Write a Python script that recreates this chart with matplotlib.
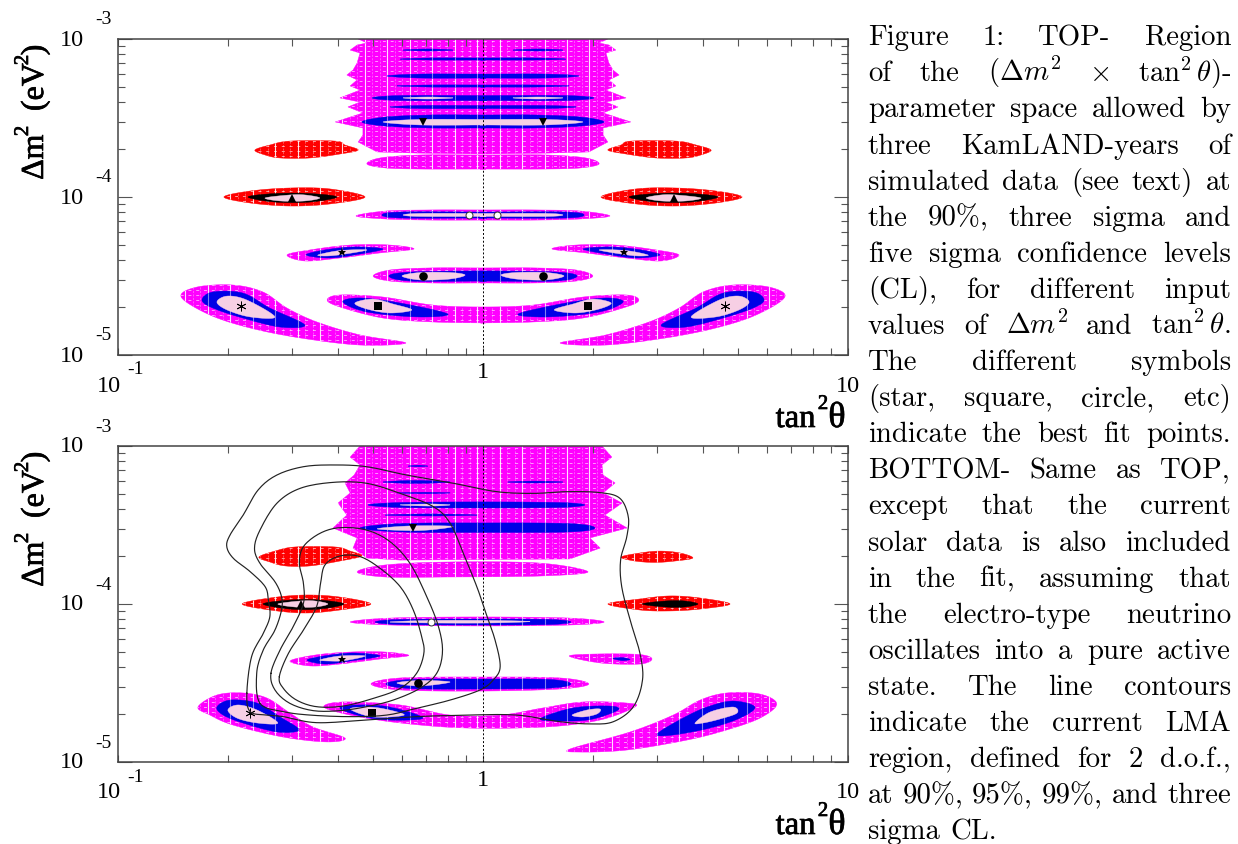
import numpy as np
import matplotlib
matplotlib.use('Agg')
import matplotlib.pyplot as plt
import matplotlib.patheffects as pe
from matplotlib.patches import Polygon

MAG, BLUE, PINK, RED, BLK = '#ff00ff', '#0000e6', '#f7cfe4', '#ff0000', '#000000'

# ---- all outlines are (log10 tan^2 theta, log10 dm^2) readings ----
# TOP panel: symmetric under tan^2 -> 1/tan^2, left half read
top_big_left = [(-.342,-3.000),(-.318,-3.025),(-.345,-3.038),(-.364,-3.070),(-.337,-3.089),(-.345,-3.152),(-.356,-3.196),(-.373,-3.228),(-.345,-3.259),(-.364,-3.297),(-.337,-3.323),(-.392,-3.373),(-.337,-3.399),(-.370,-3.430),(-.329,-3.468),(-.405,-3.525),(-.329,-3.563),(-.329,-3.608),(-.342,-3.652),(-.290,-3.715),(-.181,-3.722),(0,-3.728)]
# bands crossing tan^2=1: (upper edge, lower edge), left tip to centre
top_mag_bands = [
    ([(-.318,-3.791),(-.282,-3.753),(-.173,-3.734),(0,-3.734)], [(-.318,-3.791),(-.268,-3.816),(-.173,-3.823),(0,-3.823)]),
    ([(-.348,-4.120),(-.268,-4.089),(-.145,-4.082),(0,-4.082)], [(-.348,-4.120),(-.268,-4.139),(-.145,-4.146),(0,-4.146)]),
    ([(-.301,-4.500),(-.255,-4.462),(-.145,-4.449),(0,-4.449)], [(-.301,-4.500),(-.255,-4.532),(-.145,-4.544),(0,-4.544)]),
    ([(-.427,-4.652),(-.392,-4.620),(-.274,-4.633),(-.137,-4.684),(0,-4.696)], [(-.427,-4.652),(-.392,-4.696),(-.274,-4.766),(-.137,-4.791),(0,-4.797)]),
]
top_blue_bands = [
    ([(-.332,-3.525),(-.268,-3.494),(-.145,-3.481),(0,-3.481)], [(-.332,-3.525),(-.268,-3.551),(-.145,-3.563),(0,-3.563)]),
    ([(-.227,-3.127),(-.145,-3.120),(0,-3.120)], [(-.227,-3.127),(-.145,-3.133),(0,-3.133)]),
    ([(-.263,-3.234),(-.173,-3.222),(0,-3.222)], [(-.263,-3.234),(-.173,-3.247),(0,-3.247)]),
    ([(-.236,-3.297),(-.145,-3.291),(0,-3.291)], [(-.236,-3.297),(-.145,-3.304),(0,-3.304)]),
    ([(-.304,-3.373),(-.227,-3.358),(0,-3.358)], [(-.304,-3.373),(-.227,-3.389),(0,-3.389)]),
    ([(-.255,-3.430),(-.173,-3.421),(0,-3.421)], [(-.255,-3.430),(-.173,-3.440),(0,-3.440)]),
    ([(-.277,-4.114),(-.227,-4.095),(0,-4.095)], [(-.277,-4.114),(-.227,-4.133),(0,-4.133)]),
    ([(-.258,-4.500),(-.200,-4.475),(0,-4.468)], [(-.258,-4.500),(-.200,-4.532),(0,-4.532)]),
]
top_pink_bands = [
    ([(-.274,-3.525),(-.173,-3.509),(0,-3.509)], [(-.274,-3.525),(-.173,-3.544),(0,-3.544)]),
    ([(-.219,-4.114),(-.173,-4.104),(0,-4.104)], [(-.219,-4.114),(-.173,-4.123),(0,-4.123)]),
]
# closed shapes, drawn with their mirror image
top_red = [
    [(-.625,-3.703),(-.584,-3.671),(-.529,-3.646),(-.405,-3.646),(-.378,-3.671),(-.342,-3.703),(-.392,-3.728),(-.474,-3.753),(-.556,-3.753),(-.597,-3.734)],
    [(-.710,-4.000),(-.638,-3.962),(-.529,-3.943),(-.419,-3.949),(-.323,-4.000),(-.419,-4.044),(-.529,-4.057),(-.638,-4.038)],
]
top_black = [[(-.644,-4.000),(-.570,-3.978),(-.474,-3.978),(-.400,-4.000),(-.474,-4.032),(-.570,-4.032)]]
top_mag = [
    [(-.537,-4.367),(-.474,-4.335),(-.364,-4.304),(-.255,-4.304),(-.189,-4.329),(-.282,-4.354),(-.392,-4.386),(-.488,-4.405)],
    [(-.827,-4.633),(-.784,-4.570),(-.685,-4.557),(-.603,-4.601),(-.537,-4.703),(-.455,-4.791),(-.337,-4.873),(-.211,-4.924),(-.337,-4.937),(-.501,-4.892),(-.638,-4.829),(-.748,-4.747)],
]
top_blue = [
    [(-.219,-3.070),(-.151,-3.063),(-.082,-3.070),(-.151,-3.076)],
    [(-.485,-4.367),(-.433,-4.335),(-.351,-4.316),(-.274,-4.329),(-.337,-4.361),(-.419,-4.386)],
    [(-.384,-4.665),(-.337,-4.639),(-.227,-4.671),(-.096,-4.741),(-.181,-4.759),(-.318,-4.728)],
    [(-.770,-4.652),(-.740,-4.601),(-.658,-4.608),(-.584,-4.703),(-.488,-4.810),(-.556,-4.823),(-.658,-4.766),(-.740,-4.703)],
]
top_pink = [
    [(-.219,-3.373),(-.151,-3.367),(-.082,-3.373),(-.151,-3.380)],
    [(-.597,-4.006),(-.529,-3.987),(-.488,-3.987),(-.447,-4.006),(-.488,-4.025),(-.556,-4.025)],
    [(-.452,-4.367),(-.392,-4.339),(-.318,-4.335),(-.378,-4.361),(-.425,-4.373)],
    [(-.222,-4.500),(-.173,-4.478),(-.090,-4.478),(-.049,-4.494),(-.090,-4.519),(-.173,-4.525)],
    [(-.351,-4.671),(-.301,-4.646),(-.247,-4.677),(-.195,-4.715),(-.255,-4.734),(-.318,-4.709)],
    [(-.729,-4.665),(-.701,-4.627),(-.647,-4.652),(-.570,-4.759),(-.638,-4.759),(-.701,-4.715)],
]
top_marks = [('ast',-.663,-4.690),('s',-.288,-4.690),('o',-.164,-4.500),('*',-.386,-4.348),('open',-.038,-4.114),('^',-.523,-4.006),('v',-.164,-3.525)]

# BOTTOM panel
bot_big = [(-.337,-3.000),(-.364,-3.070),(-.337,-3.120),(-.353,-3.184),(-.378,-3.234),(-.364,-3.297),(-.397,-3.361),(-.373,-3.437),(-.411,-3.519),(-.345,-3.582),(-.356,-3.646),(-.318,-3.709),(-.227,-3.722),(.238,-3.715),(.321,-3.646),(.293,-3.582),(.395,-3.519),(.334,-3.437),(.381,-3.361),(.329,-3.297),(.362,-3.234),(.329,-3.184),(.326,-3.120),(.353,-3.070),(.326,-3.000)]
bot_red = [
    [(-.614,-3.703),(-.570,-3.665),(-.515,-3.639),(-.405,-3.639),(-.364,-3.665),(-.332,-3.696),(-.392,-3.728),(-.474,-3.759),(-.542,-3.759),(-.584,-3.734)],
    [(.378,-3.703),(.430,-3.677),(.485,-3.665),(.540,-3.677),(.575,-3.709),(.526,-3.728),(.471,-3.737),(.416,-3.728)],
    [(-.660,-4.000),(-.584,-3.962),(-.488,-3.943),(-.392,-3.956),(-.307,-4.000),(-.392,-4.038),(-.488,-4.057),(-.584,-4.038)],
    [(.342,-4.000),(.430,-3.968),(.512,-3.949),(.595,-3.962),(.677,-4.000),(.595,-4.032),(.512,-4.044),(.430,-4.038)],
]
bot_black = [
    [(-.603,-4.000),(-.529,-3.975),(-.447,-3.975),(-.381,-4.000),(-.447,-4.032),(-.529,-4.032)],
    [(.436,-4.000),(.499,-3.981),(.553,-3.981),(.589,-4.000),(.553,-4.019),(.499,-4.019)],
]
bot_mag = [
    [(-.345,-3.797),(-.268,-3.753),(-.090,-3.734),(.156,-3.741),(.288,-3.797),(.156,-3.823),(-.090,-3.829),(-.268,-3.829)],
    [(-.364,-4.114),(-.255,-4.089),(-.008,-4.082),(.238,-4.089),(.332,-4.114),(.238,-4.133),(-.008,-4.139),(-.255,-4.133)],
    [(-.529,-4.361),(-.460,-4.323),(-.364,-4.304),(-.268,-4.304),(-.203,-4.326),(-.282,-4.348),(-.392,-4.380),(-.474,-4.392)],
    [(.236,-4.329),(.321,-4.316),(.430,-4.320),(.463,-4.348),(.430,-4.380),(.321,-4.373)],
    [(-.307,-4.506),(-.227,-4.468),(-.008,-4.462),(.211,-4.468),(.290,-4.506),(.211,-4.538),(-.008,-4.551),(-.227,-4.544)],
    [(-.436,-4.652),(-.384,-4.620),(-.227,-4.639),(-.090,-4.703),(.047,-4.703),(.164,-4.658),(.274,-4.620),(.395,-4.627),(.416,-4.652),(.321,-4.734),(.175,-4.778),(-.044,-4.785),(-.227,-4.753),(-.364,-4.703)],
    [(-.781,-4.652),(-.729,-4.576),(-.658,-4.563),(-.592,-4.595),(-.529,-4.690),(-.466,-4.778),(-.378,-4.848),(-.427,-4.873),(-.548,-4.842),(-.685,-4.766),(-.748,-4.703)],
    [(.238,-4.918),(.403,-4.810),(.521,-4.703),(.595,-4.608),(.668,-4.563),(.759,-4.570),(.805,-4.633),(.759,-4.722),(.668,-4.797),(.559,-4.861),(.395,-4.924),(.266,-4.937)],
]
bot_blue = [
    [(-.337,-3.519),(-.227,-3.491),(-.008,-3.487),(.238,-3.491),(.307,-3.519),(.238,-3.544),(-.008,-3.547),(-.227,-3.544)],
    [(-.205,-3.127),(-.178,-3.122),(-.151,-3.127),(-.178,-3.131)],
    [(-.274,-3.228),(-.186,-3.218),(-.090,-3.228),(-.186,-3.237)],
    [(.068,-3.228),(.142,-3.222),(.219,-3.228),(.142,-3.234)],
    [(-.236,-3.297),(-.159,-3.293),(-.090,-3.297),(-.159,-3.302)],
    [(-.315,-3.373),(-.227,-3.358),(-.008,-3.354),(.211,-3.358),(.279,-3.373),(.211,-3.389),(-.008,-3.392),(-.227,-3.389)],
    [(-.268,-3.437),(-.145,-3.430),(-.016,-3.437),(-.145,-3.443)],
    [(-.296,-4.114),(-.227,-4.098),(-.008,-4.095),(.184,-4.098),(.241,-4.114),(.184,-4.130),(-.008,-4.133),(-.227,-4.130)],
    [(-.482,-4.354),(-.419,-4.323),(-.351,-4.310),(-.282,-4.329),(-.364,-4.361),(-.433,-4.380)],
    [(.356,-4.345),(.381,-4.339),(.403,-4.351),(.381,-4.358)],
    [(-.266,-4.506),(-.200,-4.478),(-.008,-4.475),(.184,-4.478),(.241,-4.506),(.184,-4.532),(-.008,-4.538),(-.200,-4.535)],
    [(-.392,-4.658),(-.345,-4.639),(-.255,-4.652),(-.164,-4.722),(-.263,-4.734),(-.345,-4.703)],
    [(.156,-4.728),(.247,-4.658),(.348,-4.646),(.370,-4.671),(.301,-4.728),(.230,-4.741)],
    [(-.729,-4.652),(-.693,-4.608),(-.619,-4.627),(-.556,-4.715),(-.504,-4.797),(-.564,-4.810),(-.658,-4.753),(-.712,-4.703)],
    [(.477,-4.823),(.548,-4.722),(.614,-4.652),(.685,-4.614),(.745,-4.652),(.704,-4.722),(.622,-4.785),(.521,-4.829)],
]
bot_pink = [
    [(-.290,-3.525),(-.200,-3.506),(-.082,-3.509),(-.173,-3.535)],
    [(-.227,-3.373),(-.145,-3.367),(-.090,-3.373),(-.145,-3.380)],
    [(-.562,-4.000),(-.501,-3.981),(-.460,-3.981),(-.425,-4.000),(-.460,-4.019),(-.515,-4.019)],
    [(-.255,-4.114),(-.145,-4.104),(.019,-4.104),(.129,-4.111),(.019,-4.120),(-.145,-4.120)],
    [(-.447,-4.354),(-.392,-4.329),(-.323,-4.329),(-.378,-4.358),(-.419,-4.361)],
    [(-.236,-4.500),(-.173,-4.484),(-.090,-4.494),(-.173,-4.519)],
    [(-.364,-4.665),(-.318,-4.652),(-.268,-4.665),(-.216,-4.703),(-.301,-4.715)],
    [(.244,-4.703),(.285,-4.671),(.321,-4.665),(.312,-4.696),(.274,-4.715)],
    [(-.699,-4.671),(-.671,-4.639),(-.619,-4.671),(-.562,-4.753),(-.619,-4.753),(-.674,-4.722)],
    [(.581,-4.753),(.622,-4.684),(.685,-4.652),(.696,-4.690),(.649,-4.728),(.603,-4.753)],
]
bot_marks = [('ast',-.638,-4.690),('s',-.304,-4.690),('o',-.178,-4.500),('*',-.386,-4.348),('open',-.142,-4.114),('^',-.499,-4.000),('v',-.192,-3.519)]

# LMA contours (90, 95, 99 %, 3 sigma)
lma_90 = [(-.558,-4.460),(-.533,-4.312),(-.492,-4.165),(-.456,-4.017),(-.445,-3.869),(-.433,-3.753),(-.392,-3.696),(-.337,-3.700),(-.282,-3.774),(-.227,-3.890),(-.191,-4.038),(-.168,-4.207),(-.162,-4.312),(-.182,-4.439),(-.227,-4.534),(-.300,-4.597),(-.383,-4.646),(-.456,-4.650),(-.511,-4.608),(-.547,-4.534)]
lma_95 = [(-.581,-4.439),(-.556,-4.291),(-.520,-4.143),(-.492,-3.996),(-.492,-3.869),(-.503,-3.743),(-.492,-3.637),(-.447,-3.553),(-.392,-3.517),(-.319,-3.532),(-.255,-3.605),(-.200,-3.743),(-.154,-3.954),(-.122,-4.143),(-.111,-4.302),(-.127,-4.439),(-.173,-4.534),(-.246,-4.608),(-.319,-4.650),(-.392,-4.675),(-.465,-4.675),(-.529,-4.629),(-.570,-4.544)]
lma_99 = [(-.611,-4.629),(-.620,-4.439),(-.602,-4.291),(-.570,-4.165),(-.552,-4.038),(-.552,-3.954),(-.570,-3.859),(-.611,-3.743),(-.626,-3.648),(-.611,-3.532),(-.565,-3.363),(-.501,-3.268),(-.410,-3.230),(-.319,-3.236),(-.227,-3.300),(-.136,-3.384),(-.090,-3.489),(-.054,-3.679),(-.017,-3.890),(.005,-4.038),(.033,-4.228),(.047,-4.397),(.028,-4.481),(-.008,-4.544),(-.090,-4.608),(-.182,-4.660),(-.264,-4.703),(-.364,-4.713),(-.474,-4.703),(-.547,-4.681)]
lma_3s = [(-.647,-4.565),(-.634,-4.333),(-.602,-4.186),(-.584,-4.080),(-.588,-3.975),(-.597,-3.890),(-.638,-3.795),(-.684,-3.711),(-.702,-3.637),(-.693,-3.563),(-.657,-3.437),(-.616,-3.278),(-.565,-3.184),(-.492,-3.131),(-.410,-3.120),(-.319,-3.131),(-.209,-3.184),(-.081,-3.236),(.037,-3.289),(.138,-3.300),(.229,-3.289),(.321,-3.295),(.375,-3.331),(.398,-3.447),(.394,-3.574),(.377,-3.722),(.380,-3.890),(.403,-4.101),(.430,-4.312),(.437,-4.481),(.412,-4.650),(.357,-4.745),(.293,-4.759),(.211,-4.745),(.092,-4.703),(-.045,-4.703),(-.182,-4.713),(-.319,-4.734),(-.456,-4.751),(-.547,-4.713),(-.593,-4.703),(-.638,-4.681)]

caption = [
 'Figure 1: TOP- Region',
 r'of the $(\Delta{}m^2$ $\times$ $\tan^2\theta)$-',
 'parameter space allowed by',
 'three KamLAND-years of',
 'simulated data (see text) at',
 'the 90%, three sigma and',
 'five sigma confidence levels',
 '(CL), for different input',
 r'values of $\Delta{}m^2$ and $\tan^2\theta$.',
 'The different symbols',
 '(star, square, circle, etc)',
 'indicate the best fit points.',
 'BOTTOM- Same as TOP,',
 'except that the current',
 'solar data is also included',
 'in the fit, assuming that',
 'the electro-type neutrino',
 'oscillates into a pure active',
 'state. The line contours',
 'indicate the current LMA',
 'region, defined for 2 d.o.f.,',
 'at 90%, 95%, 99%, and three',
 'sigma CL.',
]

W, H = 1238, 844
plt.rcParams['mathtext.fontset'] = 'cm'
fig = plt.figure(figsize=(W/100, H/100), dpi=100)
ax1 = fig.add_axes([118/W, 1-355/H, 730/W, 316/H])
ax2 = fig.add_axes([118/W, 1-762/H, 730/W, 316/H])


def smooth(pts, n=10):
    # closed Catmull-Rom curve through the read points
    p = np.array(pts, float)
    out = []
    t = np.linspace(0, 1, n, endpoint=False)[:, None]
    for i in range(len(p)):
        a, b, c, d = p[i-1], p[i], p[(i+1) % len(p)], p[(i+2) % len(p)]
        out.append(.5*(2*b + (c-a)*t + (2*a-5*b+4*c-d)*t**2 + (3*b-a-3*c+d)*t**3))
    return np.vstack(out)


def mirror(pts):
    return [(-a, b) for a, b in pts]


def band(upper, lower):
    return upper + mirror(upper)[::-1][1:] + mirror(lower)[1:] + lower[::-1][:-1]


STRONG = 10.0**np.arange(-1, 1.0, .0615)
FINE = 10.0**np.arange(-1, 1.0, .0205)
ROWS = 10.0**np.arange(-5, -3, .0315)


def fill(ax, pts, color, soft=True, hatch=0, rows=False, z=1):
    p = smooth(pts) if soft else np.array(pts, float)
    poly = Polygon(10.0**p, closed=True, fc=color, ec=color, lw=.3, zorder=z)
    ax.add_patch(poly)
    if hatch:
        v = ax.vlines(STRONG, 1e-5, 1e-3, color='white', lw=.8, alpha=.85 if hatch == 1 else .5, zorder=z+.1)
        v.set_clip_path(poly)
    if hatch == 1:
        v = ax.vlines(FINE, 1e-5, 1e-3, color='white', lw=.5, alpha=.45, zorder=z+.1, linestyles=(0, (3, 2)))
        v.set_clip_path(poly)
        if rows:
            h = ax.hlines(ROWS, .1, 10, color='white', lw=.7, alpha=.6, zorder=z+.1, linestyles=(0, (3, 5)))
            h.set_clip_path(poly)


def marks(ax, items):
    for m, a, b in items:
        x, y = 10.0**a, 10.0**b
        if m == 'ast':
            ax.plot(x, y, marker=(6, 2, 0), ms=7, mew=.6, color='k', zorder=8)
        elif m == 'open':
            ax.plot(x, y, marker='o', ms=5, mew=.7, mfc='white', mec='#333333', zorder=8)
        elif m == '*':
            ax.plot(x, y, marker='*', ms=6.5, color='k', mew=0, zorder=8)
        else:
            ax.plot(x, y, marker=m, ms=6.2, color='k', mew=0, zorder=8)


def frame(ax):
    ax.set_xscale('log'); ax.set_yscale('log')
    ax.set_xlim(.1, 10); ax.set_ylim(1e-5, 1e-3)
    for s in ax.spines.values():
        s.set_color('#444444'); s.set_linewidth(1.1)
    ax.tick_params(which='major', axis='y', direction='in', length=10, width=.8, left=True, right=True, color='#555555')
    ax.tick_params(which='minor', axis='y', direction='in', length=5, width=.8, left=True, right=True, color='#555555')
    ax.tick_params(which='major', axis='x', direction='in', length=5, width=.8, bottom=True, top=True, color='#555555')
    ax.tick_params(which='minor', axis='x', direction='in', length=5, width=.8, bottom=True, top=True, color='#555555')
    ax.tick_params(which='both', labelbottom=False, labelleft=False)
    ax.xaxis.set_minor_locator(matplotlib.ticker.LogLocator(10, subs=range(2, 10), numticks=20))
    ax.yaxis.set_minor_locator(matplotlib.ticker.LogLocator(10, subs=range(2, 10), numticks=20))
    ax.xaxis.set_minor_formatter(matplotlib.ticker.NullFormatter())
    ax.yaxis.set_minor_formatter(matplotlib.ticker.NullFormatter())
    ax.plot([1, 1], [1e-5, 1e-3], color='k', lw=.7, ls=(0, (2, 2)), zorder=7)
    ser = dict(family='Liberation Serif', ha='center', va='center', textcoords='offset pixels', annotation_clip=False)
    for k, lab in [(-3, '-3'), (-4, '-4'), (-5, '-5')]:
        ax.annotate('10', xy=(.1, 10.0**k), xytext=(-46, -1), fontsize=17.5, **ser)
        ax.annotate(lab, xy=(.1, 10.0**k), xytext=(-15, 19), fontsize=14, **ser)
    ax.annotate('10', xy=(.1, 1e-5), xytext=(-9.5, -31), fontsize=17.5, **ser)
    ax.annotate('-1', xy=(.1, 1e-5), xytext=(18, -15), fontsize=14, **ser)
    ax.annotate('1', xy=(1, 1e-5), xytext=(0, -18), fontsize=17.5, **ser)
    ax.annotate('10', xy=(10, 1e-5), xytext=(0, -31), fontsize=17.5, **ser)
    # axis titles, set piece by piece on their baselines
    stroke = [pe.withStroke(linewidth=.5, foreground='k')]
    base = dict(family='Liberation Serif', ha='center', va='baseline', textcoords='offset pixels',
                annotation_clip=False, rotation_mode='anchor', path_effects=stroke)
    ax.annotate('tan', xy=(10, 1e-5), xytext=(-52.5, -72), fontsize=23.5, **base)
    ax.annotate('2', xy=(10, 1e-5), xytext=(-25, -54), fontsize=15, **base)
    ax.annotate('\u03b8', xy=(10, 1e-5), xytext=(-11, -72), fontsize=26, **base)
    for s, yy, xx, fs in [('\u0394', 169.5, 43, 23), ('m', 147, 43, 23), ('2', 131, 28, 15),
                          ('(eV', 87, 43, 23), ('2', 60, 28, 15), (')', 50, 43, 23)]:
        ax.annotate(s, xy=(.1, 1e-3), xytext=(xx-118, 39-yy), fontsize=fs, rotation=90, **base)


frame(ax1); frame(ax2)

# --- top panel
big = top_big_left + mirror(top_big_left)[::-1][1:]
fill(ax1, big, MAG, soft=False, hatch=1, rows=True)
for u, l in top_mag_bands:
    fill(ax1, band(u, l), MAG, hatch=1, rows=True)
for s in top_mag:
    fill(ax1, s, MAG, hatch=1, rows=True); fill(ax1, mirror(s), MAG, hatch=1, rows=True)
for s in top_red:
    fill(ax1, s, RED, hatch=1, rows=True); fill(ax1, mirror(s), RED, hatch=1, rows=True)
for s in top_black:
    fill(ax1, s, BLK, z=2); fill(ax1, mirror(s), BLK, z=2)
for u, l in top_blue_bands:
    fill(ax1, band(u, l), BLUE, hatch=2, z=2)
for s in top_blue:
    fill(ax1, s, BLUE, hatch=2, z=2); fill(ax1, mirror(s), BLUE, hatch=2, z=2)
for u, l in top_pink_bands:
    fill(ax1, band(u, l), PINK, z=3)
for s in top_pink:
    fill(ax1, s, PINK, z=3); fill(ax1, mirror(s), PINK, z=3)
marks(ax1, top_marks)
marks(ax1, [(m, -a, b) for m, a, b in top_marks])

# --- bottom panel
fill(ax2, bot_big, MAG, soft=False, hatch=1, rows=True)
for s in bot_mag:
    fill(ax2, s, MAG, hatch=1, rows=True)
for s in bot_red:
    fill(ax2, s, RED, hatch=1, rows=True)
for s in bot_black:
    fill(ax2, s, BLK, z=2)
for s in bot_blue:
    fill(ax2, s, BLUE, hatch=2, z=2)
for s in bot_pink:
    fill(ax2, s, PINK, z=3)
marks(ax2, bot_marks)
for c in (lma_90, lma_95, lma_99, lma_3s):
    p = smooth(c)
    p = np.vstack([p, p[:1]])
    ax2.plot(10.0**p[:, 0], 10.0**p[:, 1], color='#222222', lw=.85, zorder=9)

# --- justified caption
r = fig.canvas.get_renderer()
x0, x1 = 868.0, 1231.0
for i, line in enumerate(caption):
    words = line.split(' ')
    arts = [fig.text(0, 0, w, family='cmr10', fontsize=20.7, va='baseline', ha='left') for w in words]
    ws = [a.get_window_extent(r).width for a in arts]
    last = i == len(caption) - 1
    gap = 10.0 if last or len(words) == 1 else (x1 - x0 - sum(ws)) / (len(words) - 1)
    x = x0
    y = 45.2 + i * 36.1
    for a, w in zip(arts, ws):
        a.set_position((x / W, 1 - y / H))
        x += w + gap

fig.savefig('out.png', dpi=100)
